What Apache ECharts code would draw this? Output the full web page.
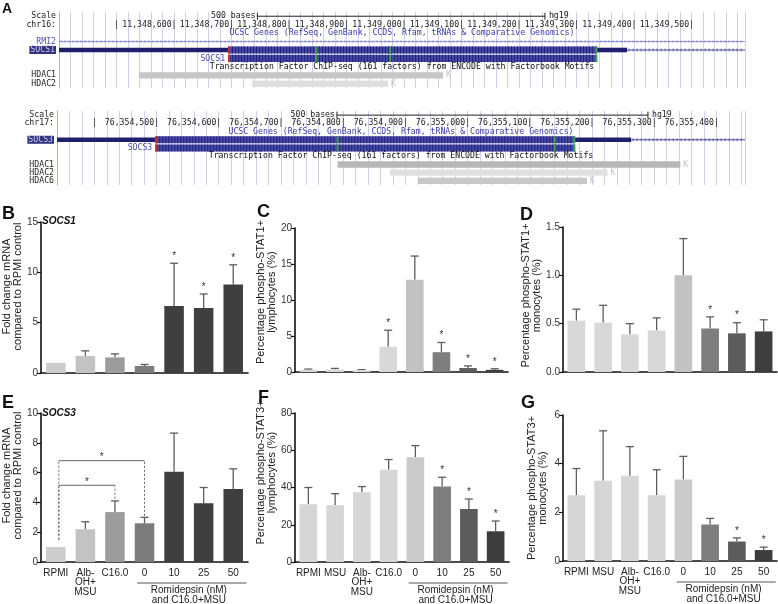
<!DOCTYPE html>
<html><head><meta charset="utf-8">
<script src="https://cdn.jsdelivr.net/npm/echarts@6/dist/echarts.min.js"></script>
<style>html,body{margin:0;padding:0;background:#fff}#c{width:778px;height:604px}</style>
</head><body><div id="c"></div>
<script>
// ================= Panel A data (genome browser) =================
const topRows = ['Scale','chr16:','genes','RMI2','SOCS1','SOCS1b','tf','HDAC1','HDAC2'];
const topRange = [11348400, 11349593];
const topTicks = [11348500,11348600,11348700,11348800,11348900,11349000,11349100,11349200,11349300,11349400,11349500];
const topScaleBar = [11348745, 11349245];
const socs1Utr5 = [11348400, 11348694];
const socs1Cds = [11348694, 11349336];
const socs1Marks = [11348847, 11348976];
const socs1Utr3 = [11349336, 11349388];
const socs1Tail = [11349388, 11349593];
const rmi2Span = [11348400, 11349593];
const topHdac = [['HDAC1', 11348539, 11349068], ['HDAC2', 11348736, 11348972]];

const botRows = ['Scale','chr17:','genes','SOCS3','SOCS3b','tf','HDAC1','HDAC2','HDAC6'];
const botRange = [76354340, 76355446];
const botTicks = [76354400,76354500,76354600,76354700,76354800,76354900,76355000,76355100,76355200,76355300,76355400];
const botScaleBar = [76354790, 76355290];
const socs3Utr5 = [76354340, 76354498];
const socs3Cds = [76354498, 76355173];
const socs3Marks = [76354791, 76355140];
const socs3Utr3 = [76355173, 76355263];
const socs3Tail = [76355263, 76355446];
const botHdac = [['HDAC1', 76354791, 76355342], ['HDAC2', 76354875, 76355225], ['HDAC6', 76354920, 76355192]];

// ================= Bar panel data =================
const catsSocs = ['RPMI', 'Alb-\nOH+\nMSU', 'C16.0', '0', '10', '25', '50'];
const catsStat = ['RPMI', 'MSU', 'Alb-\nOH+\nMSU', 'C16.0', '0', '10', '25', '50'];

const socs1Mean = [1.0, 1.7, 1.55, 0.7, 6.65, 6.45, 8.8];
const socs1Err  = [0, 0.5, 0.35, 0.15, 4.25, 1.4, 1.95];
const socs1Stars = [4, 5, 6];

const stat1LymMean = [0.3, 0.35, 0.25, 3.5, 12.8, 2.75, 0.55, 0.3];
const stat1LymErr  = [0.1, 0.15, 0.08, 2.3, 3.3, 1.35, 0.3, 0.15];
const stat1LymStars = [3, 5, 6, 7];

const stat1MonMean = [0.53, 0.51, 0.39, 0.43, 1.0, 0.45, 0.40, 0.42];
const stat1MonErr  = [0.12, 0.18, 0.11, 0.13, 0.38, 0.12, 0.11, 0.12];
const stat1MonStars = [5, 6];

const socs3Mean = [1.0, 2.2, 3.35, 2.6, 6.05, 3.95, 4.9];
const socs3Err  = [0, 0.5, 0.75, 0.4, 2.6, 1.05, 1.35];
// [from, to, level, fromBase, toBase]
const socs3Brackets = [[0, 2, 5.15, 1.5, 4.25], [0, 3, 6.8, 1.5, 3.1]];

const stat3LymMean = [31, 30.5, 37.5, 49.5, 56.2, 40.5, 28.5, 16.5];
const stat3LymErr  = [9, 6.2, 3, 5.5, 6.3, 5, 5.3, 5.5];
const stat3LymStars = [5, 6, 7];

const stat3MonMean = [2.7, 3.3, 3.5, 2.7, 3.35, 1.5, 0.8, 0.45];
const stat3MonErr  = [1.1, 2.05, 1.2, 1.05, 0.95, 0.25, 0.15, 0.12];
const stat3MonStars = [6, 7];

// ================= styles =================
const MONO = '"DejaVu Sans Mono", monospace';
const SANS = '"Liberation Sans", Arial, sans-serif';
const MF = 8.2;
const colSocs = ['#cccccc', '#c3c3c3', '#9c9c9c', '#7c7c7c', '#3f3f3f', '#3f3f3f', '#3f3f3f'];
const colStat1 = ['#d8d8d8', '#d8d8d8', '#d8d8d8', '#d8d8d8', '#c2c2c2', '#7e7e7e', '#5c5c5c', '#3e3e3e'];
const colStat3 = ['#d6d6d6', '#d6d6d6', '#d6d6d6', '#d6d6d6', '#cbcbcb', '#7e7e7e', '#5c5c5c', '#3c3c3c'];

const grids = [], xAxes = [], yAxes = [], series = [];

function T(x, y, text, o) {
  o = o || {};
  const al = o.align || 'left', va = o.va || 'middle';
  return {type: 'text', style: {text: text, x: x, y: y, font: o.font || (MF + 'px ' + MONO),
    fill: o.fill || '#222', textAlign: al, align: al, textVerticalAlign: va, verticalAlign: va}};
}
function L(x1, y1, x2, y2, c, w, dash) {
  return {type: 'line', shape: {x1: x1, y1: y1, x2: x2, y2: y2}, style: {stroke: c, lineWidth: w || 1, lineDash: dash || null}};
}
function R(x, y, w, h, c) {
  return {type: 'rect', shape: {x: x, y: y, width: w, height: h}, style: {fill: c}};
}
function fmtPos(v) { return v.toLocaleString('en-US'); }

// ================= Browser builder =================
function makeBrowser(gi, cfg) {
  grids.push({left: cfg.left, top: cfg.top, width: cfg.width, height: cfg.height});
  xAxes.push({gridIndex: gi, type: 'value', min: cfg.range[0], max: cfg.range[1], interval: 20,
    axisLine: {show: false}, axisTick: {show: false}, axisLabel: {show: false},
    splitLine: {show: true, lineStyle: {color: '#cfcfea', width: 1}}});
  const lab = cfg.labels;
  yAxes.push({gridIndex: gi, type: 'category', data: cfg.rows, inverse: true,
    axisLine: {show: true, lineStyle: {color: '#f09a9a', width: 1}}, axisTick: {show: false}, splitLine: {show: false},
    axisLabel: {interval: 0, margin: 3, fontFamily: MONO, fontSize: MF, color: '#222',
      formatter: function (v) { return lab[v] || ''; },
      rich: {
        hl: {backgroundColor: '#34347e', color: '#c8c8f0', fontFamily: MONO, fontSize: MF, padding: [0, 1, 0, 1]},
        bl: {color: '#5050b4', fontFamily: MONO, fontSize: MF}
      }}});
  const r = cfg.rows, f = [];
  const mid = (cfg.range[0] + cfg.range[1]) / 2;
  f.push({kind: 'scale', a: cfg.scale[0], b: cfg.scale[1], row: 0});
  cfg.ticks.forEach(function (t, i) { f.push({kind: 'pos', a: t, row: 1, text: i === 0 ? '|' : fmtPos(t) + '|'}); });
  f.push({kind: 'title', a: mid, row: 2, text: 'UCSC Genes (RefSeq, GenBank, CCDS, Rfam, tRNAs & Comparative Genomics)', color: '#3a3aa6'});
  if (cfg.rmi2) f.push({kind: 'intron', a: cfg.rmi2[0], b: cfg.rmi2[1], row: r.indexOf('RMI2'), color: '#9292d8'});
  const gr = r.indexOf(cfg.gene);
  f.push({kind: 'utr', a: cfg.utr5[0], b: cfg.utr5[1], row: gr});
  f.push({kind: 'cds', a: cfg.cds[0], b: cfg.cds[1], row: gr, marks: cfg.marks, label: cfg.gene});
  f.push({kind: 'utr', a: cfg.utr3[0], b: cfg.utr3[1], row: gr});
  f.push({kind: 'intron', a: cfg.tail[0], b: cfg.tail[1], row: gr, color: '#4a4aa0'});
  f.push({kind: 'title', a: mid, row: r.indexOf('tf'), text: 'Transcription Factor ChIP-seq (161 factors) from ENCODE with Factorbook Motifs', color: '#111'});
  cfg.hdac.forEach(function (h, i) { f.push({kind: 'tf', a: h[1], b: h[2], row: r.indexOf(h[0]), color: cfg.hdacColors[i]}); });

  series.push({type: 'custom', xAxisIndex: gi, yAxisIndex: gi, silent: true, clip: false,
    data: f.map(function (d) { return [d.a, d.row]; }),
    renderItem: function (params, api) {
      const d = f[params.dataIndex];
      const p = api.coord([d.a, d.row]);
      const x1 = p[0], yc = p[1];
      const x2 = d.b != null ? api.coord([d.b, d.row])[0] : x1;
      const rh = api.size([0, 1])[1];
      const ch = [];
      if (d.kind === 'scale') {
        ch.push(L(x1, yc, x2, yc, '#222', 1), L(x1, yc - 3.5, x1, yc + 3.5, '#222', 1), L(x2, yc - 3.5, x2, yc + 3.5, '#222', 1));
        ch.push(T(x1 - 2, yc, '500 bases', {align: 'right'}), T(x2 + 4, yc, 'hg19'));
      } else if (d.kind === 'pos') {
        ch.push(T(x1 + 2.5, yc, d.text, {align: 'right'}));
      } else if (d.kind === 'title') {
        ch.push(T(x1, yc, d.text, {align: 'center', fill: d.color}));
      } else if (d.kind === 'intron') {
        ch.push(L(x1, yc, x2, yc, d.color, 1));
        for (let x = x1 + 2; x < x2; x += 4) ch.push(L(x, yc - 1.5, x, yc + 1.5, d.color, 0.8));
      } else if (d.kind === 'utr') {
        ch.push(R(x1, yc - 2.3, x2 - x1, 4.6, '#1f1f6e'));
      } else if (d.kind === 'cds') {
        const h = rh - 1.2;
        for (let k = 0; k < 2; k++) {
          const yt = yc - rh / 2 + 0.6 + k * rh;
          ch.push(R(x1, yt, x2 - x1, h, '#4646a6'));
          for (let x = x1 + 1.5; x < x2; x += 3) ch.push(L(x, yt, x, yt + h, '#24247a', 1));
          ch.push(R(x1, yt, 2, h, '#d02a2a'), R(x2 - 2, yt, 2, h, '#3aa04a'));
          d.marks.forEach(function (m) { const xm = api.coord([m, d.row])[0]; ch.push(R(xm - 1, yt, 2, h, '#3aa04a')); });
        }
        ch.push(T(x1 - 3, yc + rh, d.label, {align: 'right', fill: '#4a4aa8'}));
      } else if (d.kind === 'tf') {
        ch.push(R(x1, yc - 3.2, x2 - x1, 6.4, d.color));
        ch.push(T(x2 + 3, yc, 'K', {fill: '#c4c4c4'}));
      }
      return {type: 'group', children: ch};
    }});
}

makeBrowser(0, {left: 59, top: 12, width: 686, height: 76, range: topRange, rows: topRows,
  labels: {'Scale': 'Scale', 'chr16:': 'chr16:', 'RMI2': '{bl|RMI2}', 'SOCS1': '{hl|SOCS1}', 'HDAC1': 'HDAC1', 'HDAC2': 'HDAC2'},
  ticks: topTicks, scale: topScaleBar, rmi2: rmi2Span, gene: 'SOCS1', utr5: socs1Utr5, cds: socs1Cds, marks: socs1Marks,
  utr3: socs1Utr3, tail: socs1Tail, hdac: topHdac, hdacColors: ['#c6c6c6', '#dedede']});
makeBrowser(1, {left: 57, top: 111, width: 688, height: 74, range: botRange, rows: botRows,
  labels: {'Scale': 'Scale', 'chr17:': 'chr17:', 'SOCS3': '{hl|SOCS3}', 'HDAC1': 'HDAC1', 'HDAC2': 'HDAC2', 'HDAC6': 'HDAC6'},
  ticks: botTicks, scale: botScaleBar, rmi2: null, gene: 'SOCS3', utr5: socs3Utr5, cds: socs3Cds, marks: socs3Marks,
  utr3: socs3Utr3, tail: socs3Tail, hdac: botHdac, hdacColors: ['#b8b8b8', '#e0e0e0', '#c8c8c8']});

// ================= Bar panel builder =================
function makePanel(gi, o) {
  grids.push({left: o.left, top: o.top, width: o.width, height: o.height});
  xAxes.push({gridIndex: gi, type: 'category', data: o.cats,
    axisLine: {lineStyle: {color: '#111', width: 1.6}},
    axisTick: {alignWithLabel: true, length: 4, lineStyle: {color: '#111', width: 1.2}},
    axisLabel: {show: !!o.showLabels, interval: 0, margin: 6, fontSize: 10, fontFamily: SANS, color: '#222', lineHeight: 9.5}});
  yAxes.push({gridIndex: gi, type: 'value', min: 0, max: o.max, interval: o.interval,
    name: o.name, nameLocation: 'middle', nameGap: o.nameGap,
    nameTextStyle: {fontSize: 11, fontFamily: SANS, color: '#222', lineHeight: 11, padding: [0, 0, 0, o.nameShift || 0]},
    axisLine: {show: true, lineStyle: {color: '#111', width: 1.6}},
    axisTick: {show: true, length: 4, lineStyle: {color: '#111', width: 1.2}},
    axisLabel: {fontSize: 10, fontFamily: SANS, color: '#333', margin: 3, formatter: o.fmt},
    splitLine: {show: false}});
  series.push({type: 'bar', xAxisIndex: gi, yAxisIndex: gi, silent: true, barWidth: '66%',
    data: o.mean.map(function (v, i) { return {value: v, itemStyle: {color: o.colors[i]}}; })});
  series.push({type: 'custom', xAxisIndex: gi, yAxisIndex: gi, silent: true,
    encode: {x: 0, y: [1, 2]},
    data: o.mean.map(function (v, i) { return [i, v, v + o.err[i]]; }),
    renderItem: function (params, api) {
      const m = api.value(1), t = api.value(2);
      if (!(t > m)) return;
      const p0 = api.coord([api.value(0), m]), p1 = api.coord([api.value(0), t]);
      const c = '#5e5e5e';
      return {type: 'group', children: [L(p0[0], p0[1], p1[0], p1[1], c, 1.3), L(p1[0] - 4, p1[1], p1[0] + 4, p1[1], c, 1.3)]};
    }});
  if (o.stars && o.stars.length) {
    series.push({type: 'custom', xAxisIndex: gi, yAxisIndex: gi, silent: true,
      data: o.stars.map(function (i) { return [i, o.mean[i] + o.err[i]]; }),
      renderItem: function (params, api) {
        const c = api.coord([api.value(0), api.value(1)]);
        return T(c[0], c[1] - 7, '*', {align: 'center', font: '10px ' + SANS, fill: '#333'});
      }});
  }
  if (o.romi) {
    series.push({type: 'custom', xAxisIndex: gi, yAxisIndex: gi, silent: true, clip: false,
      data: [o.romi],
      renderItem: function (params, api) {
        const a = api.coord([api.value(0), 0]), b = api.coord([api.value(1), 0]);
        const bw = api.size([1, 0])[0];
        const xa = a[0] - 0.25 * bw, xb = b[0] + 0.45 * bw, y = a[1] + 21, xc = (a[0] + b[0]) / 2;
        return {type: 'group', children: [
          L(xa, y, xb, y, '#555', 1),
          T(xc, y + 7.5, 'Romidepsin (nM)', {align: 'center', font: '10px ' + SANS}),
          T(xc, y + 17, 'and C16.0+MSU', {align: 'center', font: '10px ' + SANS})
        ]};
      }});
  }
  if (o.brackets) {
    series.push({type: 'custom', xAxisIndex: gi, yAxisIndex: gi, silent: true, clip: false,
      data: o.brackets,
      renderItem: function (params, api) {
        const f = api.value(0), t = api.value(1), lv = api.value(2);
        const a = api.coord([f, lv]), b = api.coord([t, lv]);
        const a0 = api.coord([f, api.value(3)]), b0 = api.coord([t, api.value(4)]);
        const xa = a[0] + 3, c = '#666';
        return {type: 'group', children: [
          L(xa, a[1], b[0], b[1], c, 1),
          L(xa, a0[1], xa, a[1], c, 1, [2, 2]),
          L(b[0], b0[1], b[0], b[1], c, 1, [2, 2]),
          T((xa + b[0]) / 2, a[1] - 3.5, '*', {align: 'center', font: '10px ' + SANS, fill: '#333'})
        ]};
      }});
  }
}

const fmt1 = function (v) { return v.toFixed(1); };
makePanel(2, {left: 36, top: 222, width: 212, height: 151, cats: catsSocs, mean: socs1Mean, err: socs1Err, colors: colSocs,
  max: 15, interval: 5, name: 'Fold change mRNA\ncompared to RPMI control', nameGap: 8.5, nameShift: 22, stars: socs1Stars});
makePanel(3, {left: 295, top: 228, width: 213, height: 144, cats: catsStat, mean: stat1LymMean, err: stat1LymErr, colors: colStat1,
  max: 20, interval: 5, name: 'Percentage phospho-STAT1+\nlymphocytes (%)', nameGap: 15.5, nameShift: 16, stars: stat1LymStars});
makePanel(4, {left: 563, top: 227, width: 214, height: 145, cats: catsStat, mean: stat1MonMean, err: stat1MonErr, colors: colStat1,
  max: 1.5, interval: 0.5, fmt: fmt1, name: 'Percentage phospho-STAT1+\nmonocytes (%)', nameGap: 16.5, nameShift: 8, stars: stat1MonStars});
makePanel(5, {left: 36, top: 413, width: 212, height: 149, cats: catsSocs, mean: socs3Mean, err: socs3Err, colors: colSocs,
  max: 10, interval: 2, name: 'Fold change mRNA\ncompared to RPMI control', nameGap: 9, nameShift: 24, showLabels: true,
  romi: [3, 6], brackets: socs3Brackets});
makePanel(6, {left: 295, top: 413, width: 214, height: 149, cats: catsStat, mean: stat3LymMean, err: stat3LymErr, colors: colStat3,
  max: 80, interval: 20, name: 'Percentage phospho-STAT3+\nlymphocytes (%)', nameGap: 15.5, nameShift: 30, showLabels: true, stars: stat3LymStars,
  romi: [4, 7]});
makePanel(7, {left: 563, top: 415, width: 214, height: 146, cats: catsStat, mean: stat3MonMean, err: stat3MonErr, colors: colStat3,
  max: 6, interval: 2, name: 'Percentage phospho-STAT3+\nmonocytes (%)', nameGap: 14.5, nameShift: 0, showLabels: true, stars: stat3MonStars,
  romi: [4, 7]});

function letter(ch, x, y, size) {
  return {type: 'text', left: x, top: y, style: {text: ch, font: 'bold ' + size + 'px ' + SANS, fill: '#111'}};
}
const graphic = [
  letter('A', 2, 2, 14), letter('B', 2, 205, 18), letter('C', 257, 203, 18), letter('D', 520, 206, 18),
  letter('E', 2, 394, 18), letter('F', 258, 389, 18), letter('G', 521, 394, 18),
  {type: 'text', left: 42, top: 216, style: {text: 'SOCS1', font: 'italic bold 10px ' + SANS, fill: '#111'}},
  {type: 'text', left: 42, top: 408, style: {text: 'SOCS3', font: 'italic bold 10px ' + SANS, fill: '#111'}}
];

const chart = echarts.init(document.getElementById('c'), null, {renderer: 'canvas'});
chart.setOption({animation: false, backgroundColor: '#fff', grid: grids, xAxis: xAxes, yAxis: yAxes, series: series, graphic: graphic});
</script></body></html>
